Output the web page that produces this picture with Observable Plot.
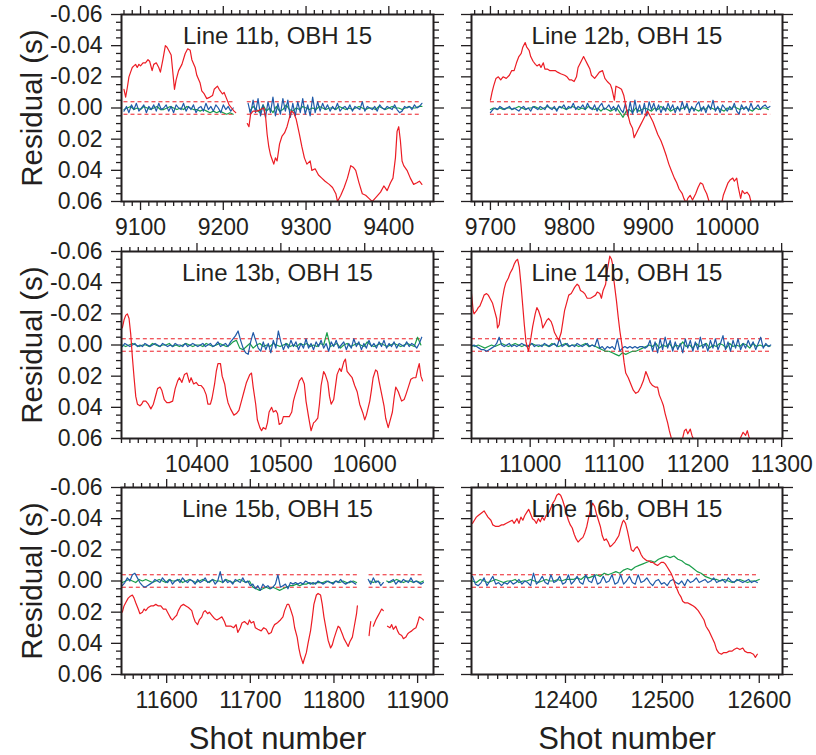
<!DOCTYPE html>
<html><head><meta charset="utf-8">
<script src="https://cdn.jsdelivr.net/npm/d3@7"></script>
<script src="https://cdn.jsdelivr.net/npm/@observablehq/plot@0.6"></script>
<style>
body{margin:0;background:#fff;}
#chart{position:relative;width:816px;height:755px;overflow:hidden;}
#chart svg{position:absolute;}
</style></head><body><div id="chart"></div>
<script>
// ---------- DATA (residuals in milliseconds) ----------
const red11b = [[9080,-12],[9082,-7],[9084,-13],[9086,-20],[9088,-23],[9090,-26],[9092,-27],[9094,-28],[9096,-26],[9098,-28],[9100,-27],[9103,-29],[9106,-29],[9109,-31],[9111,-30],[9114,-24],[9116,-28],[9119,-29],[9122,-26],[9124,-23],[9127,-31],[9130,-40],[9132,-39],[9134,-37],[9137,-34],[9141,-12],[9143,-18],[9146,-24],[9150,-28],[9154,-35],[9157,-38],[9160,-37],[9162,-31],[9166,-26],[9168,-21],[9172,-16],[9174,-11],[9177,-9],[9180,-6],[9184,-7],[9187,-8],[9189,-12],[9193,-14],[9195,-12],[9199,-9],[9201,-10],[9204,-6],[9207,-2],[9210,0],[9213,2],[9215,3],[9222,null],
[9229,10],[9231,12],[9233,4],[9236,2],[9241,2],[9245,1],[9249,0],[9251,5],[9253,17],[9255,25],[9257,30],[9259,33],[9261,36],[9263,32],[9265,34],[9268,23],[9271,18],[9274,16],[9277,12],[9280,6],[9282,2],[9285,3],[9288,7],[9292,17],[9295,25],[9298,32],[9301,36],[9305,34],[9307,40],[9311,39],[9315,43],[9319,45],[9323,47],[9328,49],[9332,51],[9336,55],[9338,60],[9342,56],[9346,51],[9350,45],[9354,37],[9357,38],[9360,40],[9364,48],[9368,55],[9372,56],[9376,58],[9380,60],[9385,57],[9390,54],[9394,50],[9398,53],[9402,48],[9405,45],[9408,32],[9410,15],[9412,12],[9414,21],[9416,34],[9418,37],[9422,40],[9426,45],[9430,49],[9434,48],[9437,47],[9440,49]];
const blue11b = [2,-1,3,-2,1,-3,2,0,-2,3,-1,1,-2,2,-3,1,0,-2,2,-1,3,-2,0,1,-3,2,-1,1,-2,3,0,-1,2,-3,1,-1,2,-2,0,3,-2,1,-1,2,0,
null,null,null,null,null,
-3,4,-5,3,-6,5,-2,6,-4,3,-7,5,-3,4,-6,2,-5,6,-3,5,-4,3,-6,4,-2,5,-7,3,-4,2,-3,1,-2,2,-1,1,-3,2,0,-1,1,-2,2,-1,0,1,-4,2,-1,0,1,-1,2,-2,0,1,-1,0,1,-2,1,3,2,-1,0,-1,1,-2,0,-1,-3];
const green11b = [1,0,-1,1,0,1,-1,0,1,0,-1,1,1,0,-1,0,1,0,1,-1,0,1,1,2,1,2,3,2,3,2,3,4,3,4,
null,null,null,null,
2,-1,1,3,-2,2,0,3,-1,2,1,-2,1,2,0,1,-1,0,1,0,1,-1,0,1,0,0,1,-1,0,1,0,1,0,-1,0,1,0,0,1,-1,0,1,0,-1,0,0,1,0,-1,0,0,-1,-1];

const red12b = [[9700,-5],[9702,-10],[9704,-14],[9707,-19],[9710,-20],[9713,-18],[9716,-20],[9720,-19],[9724,-21],[9727,-24],[9730,-24],[9733,-29],[9736,-33],[9739,-35],[9741,-39],[9744,-42],[9746,-39],[9749,-37],[9751,-33],[9754,-30],[9757,-28],[9759,-27],[9762,-28],[9764,-26],[9767,-29],[9769,-25],[9772,-25],[9775,-24],[9779,-24],[9782,-24],[9785,-23],[9789,-22],[9794,-21],[9797,-20],[9800,-18],[9803,-18],[9806,-17],[9809,-20],[9811,-26],[9815,-30],[9818,-33],[9821,-30],[9823,-28],[9826,-25],[9828,-21],[9832,-19],[9835,-21],[9838,-23],[9842,-24],[9845,-19],[9848,-17],[9852,-15],[9854,-12],[9857,-5],[9859,-14],[9863,-13],[9866,-12],[9869,-8],[9872,0],[9875,6],[9877,10],[9880,13],[9882,19],[9885,16],[9887,14],[9890,11],[9893,8],[9896,5],[9899,2],[9902,5],[9906,9],[9909,13],[9912,17],[9916,21],[9919,25],[9923,31],[9926,36],[9929,40],[9933,45],[9936,48],[9939,52],[9943,55],[9945,58],[9948,61],[9950,58],[9953,56],[9956,59],[9960,55],[9963,51],[9966,48],[9969,49],[9971,52],[9974,55],[9977,60],[9980,63],[9984,65],[9988,64],[9993,61],[9995,56],[9998,52],[10001,48],[10004,46],[10007,45],[10009,47],[10012,45],[10014,51],[10017,58],[10019,53],[10022,55],[10025,54],[10028,56],[10030,60],[10033,63],[10038,66],[10044,68],[10051,69],[10055,70]];
const blue12b = [3,1,0,1,-1,0,1,0,-1,1,0,1,2,0,-1,1,0,2,-1,0,1,-1,0,1,-2,0,1,-1,2,-1,0,-2,1,-1,0,-3,1,-1,0,-2,1,-3,0,1,-2,2,-1,-3,1,0,-2,1,-1,2,-2,1,3,
-3,5,-4,4,-5,3,-2,4,-3,5,-4,1,-3,2,-2,3,-1,2,-3,1,-2,3,-1,2,-4,1,-3,3,-1,2,-2,-4,2,-1,3,-2,1,-5,2,-1,3,-2,0,2,-1,1,-3,2,4,-2,1,-1,2,-3,1,0,-2,1,-1,-2,0,-1];
const green12b = [1,0,1,0,1,0,0,1,0,-1,0,1,0,0,-1,0,1,0,-1,0,0,1,-1,0,1,0,-1,0,1,0,1,-1,0,1,0,2,0,1,2,1,0,3,6,2,1,3,0,2,1,0,1,2,0,1,-1,1,0,2,1,0,1,0,-1,1,0,1,2,0,1,-1,0,1,0,1,2,0,1,-1,0,1,0,0,1,2,0,1,0,0,1];

const red13b = [[10311,-11],[10313,-16],[10315,-19],[10317,-20],[10319,-17],[10321,-7],[10323,8],[10325,21],[10327,33],[10329,38],[10332,39],[10334,38],[10336,36],[10339,36],[10342,38],[10345,41],[10348,38],[10350,34],[10353,28],[10356,27],[10358,29],[10361,35],[10364,37],[10367,37],[10371,36],[10374,28],[10377,23],[10379,21],[10382,24],[10385,19],[10388,18],[10391,24],[10393,21],[10396,25],[10399,24],[10402,26],[10405,26],[10408,28],[10411,32],[10413,38],[10416,38],[10418,34],[10421,25],[10423,17],[10425,12],[10428,12],[10430,20],[10433,25],[10435,32],[10437,37],[10440,41],[10444,45],[10447,44],[10450,42],[10453,36],[10456,30],[10459,24],[10463,19],[10465,18],[10467,27],[10470,38],[10472,48],[10475,53],[10477,55],[10479,53],[10482,54],[10484,50],[10486,43],[10489,40],[10491,43],[10494,42],[10496,44],[10498,51],[10501,50],[10503,46],[10506,46],[10510,46],[10513,43],[10515,36],[10517,32],[10520,27],[10522,23],[10525,21],[10528,25],[10530,36],[10533,46],[10535,52],[10536,55],[10539,50],[10541,49],[10544,47],[10546,38],[10548,26],[10551,17],[10553,19],[10556,24],[10558,33],[10560,38],[10563,35],[10565,27],[10567,19],[10570,15],[10572,17],[10575,11],[10577,9],[10579,17],[10582,19],[10585,21],[10588,26],[10591,30],[10594,38],[10598,44],[10600,48],[10602,45],[10606,36],[10608,29],[10610,21],[10613,16],[10615,17],[10617,23],[10620,31],[10623,39],[10625,47],[10628,53],[10630,49],[10633,43],[10635,34],[10637,27],[10640,30],[10642,33],[10644,36],[10647,35],[10649,32],[10652,27],[10655,22],[10658,21],[10661,21],[10663,16],[10665,12],[10667,20],[10669,23]];
const blue13b = [1,-1,0,1,0,-1,1,0,1,-1,0,1,0,-1,0,1,-1,0,1,0,1,-1,0,0,1,-1,1,0,-1,0,1,0,-1,1,0,-1,1,0,-2,1,0,-1,1,-2,-4,-6,
-9,-3,2,5,6,-2,-8,-3,2,4,-2,3,-1,5,-3,2,-9,
-2,3,-1,2,-3,1,-2,3,-1,2,-4,2,-1,3,-2,1,-3,2,-1,4,-2,1,-3,2,0,-2,3,-1,2,-4,1,-2,3,-1,2,-3,1,-1,2,-2,1,-3,2,-1,1,-2,2,-1,0,1,-2,1,-1,0,2,-1,-5];
const green13b = [0,1,0,-1,0,1,0,0,1,-1,0,1,0,0,-1,1,0,1,0,-1,0,1,0,0,1,-1,0,1,0,-1,0,1,0,-2,-3,2,3,1,-1,2,0,-1,1,0,1,-1,0,1,0,-1,
1,0,1,-1,0,-1,1,0,1,-1,0,-8,1,0,-1,2,0,-1,1,0,-1,0,1,-2,0,1,0,-1,0,1,0,-1,0,1,0,-1,0,1,-5,0];

const red14b = [[10930,-33],[10932,-22],[10933,-20],[10936,-22],[10938,-24],[10940,-25],[10943,-29],[10945,-32],[10948,-33],[10950,-32],[10952,-30],[10955,-27],[10957,-23],[10960,-17],[10961,-11],[10963,-13],[10965,-22],[10967,-30],[10969,-36],[10971,-40],[10974,-43],[10976,-46],[10979,-49],[10981,-52],[10983,-54],[10985,-55],[10987,-50],[10989,-39],[10991,-26],[10993,-13],[10995,-2],[10998,4],[10999,1],[11001,-5],[11003,-12],[11006,-20],[11008,-24],[11010,-22],[11013,-17],[11015,-11],[11018,-14],[11020,-16],[11022,-17],[11025,-15],[11027,-12],[11029,-8],[11032,-5],[11034,-3],[11037,-8],[11039,-15],[11041,-22],[11044,-28],[11046,-32],[11049,-33],[11051,-35],[11053,-37],[11056,-39],[11058,-38],[11060,-35],[11063,-34],[11065,-33],[11068,-30],[11072,-30],[11075,-31],[11078,-32],[11080,-34],[11083,-33],[11085,-30],[11087,-35],[11090,-39],[11092,-48],[11094,-54],[11095,-57],[11097,-55],[11099,-50],[11100,-41],[11103,-28],[11105,-18],[11107,-9],[11110,2],[11112,11],[11114,18],[11117,21],[11120,25],[11123,29],[11126,31],[11129,30],[11132,27],[11135,23],[11138,17],[11141,21],[11143,24],[11146,26],[11149,27],[11152,27],[11154,32],[11157,36],[11159,39],[11161,44],[11164,50],[11166,55],[11169,61],[11172,64],[11176,66],[11180,64],[11184,55],[11186,54],[11188,57],[11191,54],[11193,58],[11196,62],[11201,66],[11211,69],[11223,70],[11235,68],[11247,64],[11254,56],[11257,58],[11259,55],[11261,59],[11264,62],[11271,66],[11279,67],[11287,68]];
const blue14b = [1,0,1,2,3,3,4,3,2,1,-1,-5,
0,1,0,-1,1,0,1,0,-1,0,1,0,-1,1,0,0,1,-1,0,1,0,-1,1,-4,
1,0,-1,1,0,1,-1,0,1,0,-1,1,0,1,-4,
2,1,3,1,2,1,3,-4,4,2,1,2,1,2,1,2,1,1,2,1,
-3,4,-2,5,-4,3,-5,2,-3,4,-2,3,-1,5,-4,2,-3,4,-2,3,-5,2,-1,4,-3,2,-4,3,-1,-6,3,-2,4,-3,2,-4,3,-1,2,-3,1,-2,3,-1,-5,2,-1,1,0];
const green14b = [0,1,0,1,2,1,0,1,0,-1,0,1,0,-1,0,1,0,1,-1,0,1,0,0,1,-1,0,1,0,-1,1,0,0,1,0,-1,1,0,1,
2,3,4,4,5,6,7,5,6,5,4,4,3,2,1,
0,1,-1,2,0,1,-1,2,0,1,-2,1,0,2,-1,1,0,-1,2,0,1,-1,0,2,-1,1,0,1,-1,0,2,-1,1,0,1,0,1];

const red15b = [[11547,20],[11549,16],[11551,14],[11554,11],[11556,10],[11559,9],[11561,11],[11563,14],[11566,18],[11568,21],[11571,20],[11573,18],[11575,19],[11578,17],[11581,16],[11584,16],[11587,15],[11590,16],[11593,16],[11596,18],[11599,18],[11602,21],[11605,24],[11607,25],[11610,23],[11612,22],[11614,19],[11617,16],[11620,15],[11623,16],[11626,17],[11630,19],[11632,23],[11634,26],[11637,28],[11639,25],[11642,23],[11644,20],[11646,19],[11649,21],[11651,20],[11654,22],[11657,24],[11660,25],[11663,24],[11666,23],[11669,26],[11671,29],[11673,29],[11677,29],[11680,30],[11683,28],[11685,33],[11688,30],[11690,27],[11693,26],[11697,28],[11699,25],[11701,27],[11704,26],[11706,30],[11709,31],[11713,32],[11716,30],[11719,31],[11722,34],[11725,33],[11727,30],[11729,28],[11732,27],[11734,26],[11736,25],[11739,23],[11741,19],[11744,15],[11746,15],[11748,18],[11751,23],[11753,30],[11756,36],[11758,43],[11760,48],[11763,53],[11764,51],[11767,46],[11769,40],[11772,32],[11774,24],[11776,15],[11779,9],[11781,8],[11784,9],[11786,15],[11788,23],[11791,32],[11793,38],[11796,43],[11798,41],[11800,37],[11803,32],[11805,29],[11807,30],[11810,34],[11812,37],[11815,40],[11817,42],[11819,39],[11822,36],[11824,30],[11827,21],[11828,16],[11835,null],[11842,35],[11843,30],[11844,26],[11846,null],[11847,29],[11850,25],[11852,23],[11855,20],[11857,18],[11859,19],[11861,null],[11864,29],[11867,30],[11869,28],[11871,31],[11874,29],[11876,32],[11878,34],[11881,35],[11883,37],[11886,36],[11888,34],[11890,33],[11893,32],[11895,31],[11898,30],[11900,27],[11902,23],[11905,24],[11907,25]];
const blue15b = [3,1,-2,0,-4,-5,-2,1,3,4,3,2,1,-1,0,1,-2,0,1,-1,2,0,-1,1,-2,0,1,-1,0,2,-1,1,0,-2,1,0,-1,2,0,-6,1,-1,1,0,2,-1,0,1,-2,1,
0,3,2,5,3,6,2,4,3,5,4,2,-4,4,3,2,5,1,2,1,2,1,2,0,1,2,1,2,0,1,2,1,0,1,2,0,1,-1,1,2,1,0,1,2,
null,null,null,null,
-1,2,-2,1,0,3,1,
null,
1,0,-1,2,0,1,-1,0,1,-2,1,0,1,2,1];
const green15b = [1,0,-1,0,1,-1,0,-1,0,1,0,-1,0,1,-1,0,0,-1,1,0,-1,0,1,0,-1,0,1,-1,0,0,1,-1,0,1,0,-1,0,1,0,
4,5,6,5,4,5,4,5,6,5,4,3,3,2,3,2,2,1,2,1,1,1,0,1,1,0,1,0,1,1,0,1,
null,null,null,
0,1,0,1,
null,
0,1,0,-1,0,1,0,0,1,0,1,0];

const red16b = [[12304,-37],[12306,-39],[12308,-41],[12310,-42],[12312,-43],[12314,-44],[12316,-45],[12318,-43],[12320,-41],[12323,-39],[12325,-36],[12328,-35],[12331,-35],[12334,-36],[12336,-36],[12339,-37],[12342,-38],[12345,-39],[12347,-37],[12350,-40],[12352,-37],[12354,-41],[12356,-39],[12358,-42],[12360,-44],[12362,-46],[12364,-43],[12366,-40],[12368,-39],[12370,-37],[12372,-40],[12374,-38],[12376,-41],[12378,-39],[12380,-42],[12383,-44],[12385,-47],[12387,-50],[12389,-52],[12391,-55],[12393,-56],[12395,-55],[12397,-52],[12399,-48],[12401,-43],[12403,-39],[12405,-36],[12407,-34],[12409,-30],[12411,-27],[12413,-25],[12416,-27],[12418,-28],[12420,-31],[12422,-35],[12424,-41],[12426,-46],[12428,-50],[12430,-48],[12432,-43],[12434,-39],[12436,-35],[12438,-29],[12440,-26],[12442,-27],[12444,-25],[12446,-22],[12448,-23],[12451,-25],[12453,-27],[12455,-29],[12457,-34],[12459,-38],[12460,-39],[12462,-37],[12464,-32],[12466,-26],[12468,-20],[12470,-19],[12472,-21],[12474,-22],[12476,-20],[12478,-17],[12480,-15],[12482,-14],[12484,-13],[12486,-13],[12488,-12],[12490,-12],[12492,-11],[12495,-10],[12497,-11],[12499,-12],[12501,-12],[12503,-11],[12505,-9],[12507,-7],[12509,-5],[12511,-2],[12513,2],[12515,5],[12517,8],[12519,10],[12521,13],[12523,14],[12526,14],[12529,15],[12532,16],[12534,17],[12537,19],[12540,22],[12543,25],[12545,29],[12548,32],[12551,36],[12554,40],[12556,44],[12558,46],[12561,47],[12563,46],[12566,46],[12569,45],[12572,45],[12574,44],[12577,43],[12580,44],[12583,43],[12585,45],[12588,46],[12591,46],[12594,47],[12596,49],[12597,48],[12598,47]];
const blue16b = [-3,2,3,1,-2,3,0,-3,2,1,3,1,2,0,2,1,-1,2,0,1,3,-5,2,0,-3,1,2,-4,1,0,-3,2,1,-4,2,0,-3,1,2,-4,0,1,-4,2,1,-3,1,0,-4,2,1,-4,2,0,-3,1,2,-4,1,0,-2,1,3,0,-1,2,1,3,0,-1,1,2,0,3,-1,1,0,-2,1,0,-1,1,0,-2,1,0,-1,1,-2,0,1,-1,0,1,0,-1,1,0,1];
const green16b = [0,1,-1,0,1,0,-1,0,1,0,0,-1,1,0,0,-1,0,1,0,-1,0,0,-1,0,-1,
-1,-1,-2,-1,-3,-2,-3,-4,-3,-5,-4,-5,-6,-5,-7,-8,-7,-9,-10,-11,-12,-13,-12,-14,-15,
-16,-15,-16,-14,-13,-11,-10,-8,-6,-5,-3,-2,-1,-1,0,-1,0,1,0,-1,0,1,0,0,-1];

const titles = ["Line 11b, OBH 15","Line 12b, OBH 15","Line 13b, OBH 15","Line 14b, OBH 15","Line 15b, OBH 15","Line 16b, OBH 15"];
const xDomains = [[9077,9454],[9676,10070],[10310,10682],[10930,11301],[11546,11919],[12303,12624]];
const xTickValues = [[9100,9200,9300,9400],[9700,9800,9900,10000],[10400,10500,10600],[11000,11100,11200,11300],[11600,11700,11800,11900],[12400,12500,12600]];
const dataSegments = [[[9080,9215],[9229,9440]],[[9700,10055]],[[10311,10668]],[[10930,11287]],[[11547,11828],[11842,11907]],[[12304,12598]]];
const noiseStarts = [9080,9700,10311,10930,11547,12304];
const yTicks = [-0.06,-0.04,-0.02,0,0.02,0.04,0.06];
const yTickLabels = ["-0.06","-0.04","-0.02","0.00","0.02","0.04","0.06"];
const dashLevelMs = 4;
const blueStep = 3, greenStep = 4;

// ---------- DRAWING ----------
const RED = "#ec1c24", GREEN = "#1a9e4a", BLUE = "#1f5aa8", INK = "#231f20";
const FONT = '"Liberation Sans", Arial, Helvetica, sans-serif';
const reds = [red11b, red12b, red13b, red14b, red15b, red16b];
const blues = [blue11b, blue12b, blue13b, blue14b, blue15b, blue16b];
const greens = [green11b, green12b, green13b, green14b, green15b, green16b];
const yMinor = d3.range(-12, 13).filter(i => i % 4 !== 0).map(i => i * 0.005);
const noLabel = () => "";
const sec = v => (v == null ? NaN : v / 1000);

const colGeom = [{left: 0, width: 445, mL: 121, mR: 12}, {left: 445, width: 371, mL: 26, mR: 34}];
const rowGeom = [{top: 0, height: 236}, {top: 237, height: 236}, {top: 473, height: 282}];
const chart = document.getElementById("chart");

for (let i = 0; i < 6; i++) {
  const col = i % 2, row = Math.floor(i / 2);
  const cg = colGeom[col], rg = rowGeom[row];
  const domain = xDomains[i];
  const xMinor = d3.range(Math.ceil(domain[0] / 10) * 10, domain[1], 10).filter(t => t % 100 !== 0);
  const red = reds[i].map(([s, v]) => ({s, v: sec(v)}));
  const blue = blues[i].map((v, k) => ({s: noiseStarts[i] + k * blueStep, v: sec(v)}));
  const green = greens[i].map((v, k) => ({s: noiseStarts[i] + k * greenStep, v: sec(v)}));
  const dash = dataSegments[i].flatMap(([a, b]) => [{a, b, y: -dashLevelMs / 1000}, {a, b, y: dashLevelMs / 1000}]);
  const tickStyle = {stroke: INK, fill: INK, strokeWidth: 1.3, label: null};
  const marks = [
    Plot.ruleY(dash, {y: "y", x1: "a", x2: "b", stroke: RED, strokeWidth: 1, strokeDasharray: "4,3"}),
    Plot.line(green, {x: "s", y: "v", stroke: GREEN, strokeWidth: 1.2, clip: true}),
    Plot.line(blue, {x: "s", y: "v", stroke: BLUE, strokeWidth: 1.2, clip: true}),
    Plot.line(red, {x: "s", y: "v", stroke: RED, strokeWidth: 1.2, clip: true}),
    Plot.axisX(xTickValues[i], {...tickStyle, anchor: "bottom", tickSize: 9, tickPadding: 8, fontSize: 23, tickFormat: d => String(d)}),
    Plot.axisX(xMinor, {...tickStyle, anchor: "bottom", tickSize: 5, tickFormat: noLabel}),
    Plot.axisX(xTickValues[i], {...tickStyle, anchor: "top", tickSize: 9, tickFormat: noLabel}),
    Plot.axisX(xMinor, {...tickStyle, anchor: "top", tickSize: 5, tickFormat: noLabel}),
    Plot.axisY(yTicks, {...tickStyle, anchor: "left", tickSize: 10, tickPadding: 9, fontSize: 23,
      tickFormat: col === 0 ? (d => yTickLabels[yTicks.indexOf(d)]) : noLabel}),
    Plot.axisY(yMinor, {...tickStyle, anchor: "left", tickSize: 5, tickFormat: noLabel}),
    Plot.axisY(yTicks, {...tickStyle, anchor: "right", tickSize: 10, tickFormat: noLabel}),
    Plot.axisY(yMinor, {...tickStyle, anchor: "right", tickSize: 5, tickFormat: noLabel}),
    Plot.frame({stroke: INK, strokeWidth: 2}),
    Plot.text([titles[i]], {text: d => d, frameAnchor: "top", dy: 12, lineAnchor: "top", fontSize: 24, fill: INK})
  ];
  if (col === 0) {
    marks.push(Plot.text(["Residual (s)"], {text: d => d, frameAnchor: "left", dx: -80, rotate: -90, textAnchor: "middle", lineAnchor: "bottom", fontSize: 29.5, fill: INK}));
  }
  if (row === 2) {
    marks.push(Plot.text(["Shot number"], {text: d => d, frameAnchor: "bottom", dy: 74, textAnchor: "middle", lineAnchor: "bottom", fontSize: 31, fill: INK}));
  }
  const svg = Plot.plot({
    width: cg.width, height: rg.height,
    marginLeft: cg.mL, marginRight: cg.mR, marginTop: 14, marginBottom: rg.height - 14 - 187,
    x: {domain, axis: null, label: null},
    y: {domain: [-0.06, 0.06], reverse: true, axis: null, label: null},
    style: {fontFamily: FONT, fontSize: "23px", color: INK, background: "transparent", overflow: "visible"},
    marks
  });
  svg.style.left = cg.left + "px";
  svg.style.top = rg.top + "px";
  chart.appendChild(svg);
}
</script></body></html>
